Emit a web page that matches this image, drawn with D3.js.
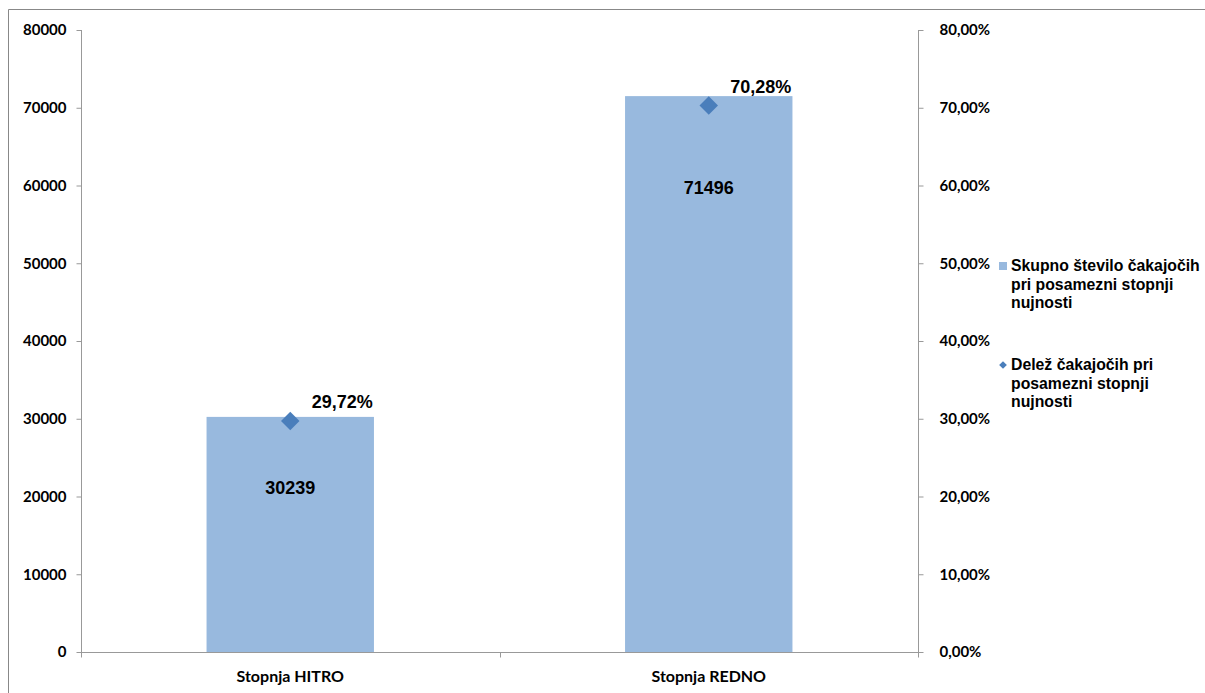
<!DOCTYPE html>
<html><head><meta charset="utf-8">
<script src="https://cdn.jsdelivr.net/npm/d3@7"></script>
<style>body{margin:0;background:#fff}svg{display:block}</style>
</head><body>
<svg id="c" width="1205" height="693"></svg>
<script>
const categories = ["Stopnja HITRO", "Stopnja REDNO"];
const counts = [30239, 71496];
const shares = [0.2972, 0.7028];
const leftTicks = [0, 10000, 20000, 30000, 40000, 50000, 60000, 70000, 80000];
const rightTicks = [0, 0.1, 0.2, 0.3, 0.4, 0.5, 0.6, 0.7, 0.8];
const legendLabels = [["Skupno število čakajočih", "pri posamezni stopnji", "nujnosti"], ["Delež čakajočih pri", "posamezni stopnji", "nujnosti"]];
const countLabelDrop = [71, 92];

const svg = d3.select("#c");
const L = 81, R = 918, T = 30, B = 652;
const axisColor = "#999";
const tickFont = "Lato, 'Open Sans', sans-serif";
const labFont = "'Liberation Sans', Arial, sans-serif";

// outer border
svg.append("path").attr("d", "M8.5,693 L8.5,9.5 L1205,9.5").attr("fill", "none").attr("stroke", "#888").attr("stroke-width", 1);

const x = d3.scaleBand().domain(categories).range([L, R]).paddingInner(0).paddingOuter(0);
const y = d3.scaleLinear().domain([0, 80000]).range([B, T]);
const y2 = d3.scaleLinear().domain([0, 0.8]).range([B, T]);
const barW = x.bandwidth() * 0.4;

// bars
svg.selectAll("rect.bar").data(categories).join("rect")
  .attr("x", d => x(d) + x.bandwidth() / 2 - barW / 2)
  .attr("y", (d, i) => y(counts[i]))
  .attr("width", barW)
  .attr("height", (d, i) => B - y(counts[i]))
  .attr("fill", "#98b9de");

// left axis
const ga = svg.append("g").attr("transform", `translate(${L + 0.5},0)`)
  .call(d3.axisLeft(y).tickValues(leftTicks).tickFormat(d3.format("d")).tickSize(5).tickPadding(10));
// right axis
const gb = svg.append("g").attr("transform", `translate(${R + 0.5},0)`)
  .call(d3.axisRight(y2).tickValues(rightTicks).tickFormat(d => d3.format(".2f")(d * 100).replace(".", ",") + "%").tickSize(5).tickPadding(12));
[ga, gb].forEach(g => {
  g.select(".domain").attr("stroke", axisColor).attr("d", `M0,${T}V${B + 5}`);
  g.selectAll(".tick line").attr("stroke", axisColor);
  g.selectAll(".tick text").attr("font-family", tickFont).attr("font-weight", "bold").attr("font-size", 15).attr("fill", "#000");
});
gb.selectAll(".tick text").attr("dx", 4);

// bottom axis
const gx = svg.append("g").attr("transform", `translate(0,${B + 0.5})`)
  .call(d3.axisBottom(x).tickSize(0).tickPadding(18));
gx.select(".domain").attr("stroke", axisColor).attr("d", `M${L},0H${R}`);
gx.selectAll(".tick text").attr("font-family", tickFont).attr("font-weight", "bold").attr("font-size", 16).attr("fill", "#000");
const bounds = [L, L + x.bandwidth(), R];
gx.selectAll("line.sep").data(bounds).join("line").attr("class", "sep")
  .attr("x1", d => Math.round(d) + 0.5).attr("x2", d => Math.round(d) + 0.5)
  .attr("y1", 0).attr("y2", 5).attr("stroke", axisColor);

// diamonds
svg.selectAll("path.dm").data(categories).join("path")
  .attr("transform", (d, i) => `translate(${x(d) + x.bandwidth() / 2},${y2(shares[i])}) rotate(45)`)
  .attr("d", d3.symbol().type(d3.symbolSquare).size(170))
  .attr("fill", "#4a7ebb");

// percent labels
svg.selectAll("text.pl").data(categories).join("text")
  .attr("x", (d, i) => x(d) + x.bandwidth() / 2 + 52)
  .attr("y", (d, i) => y2(shares[i]) - 13)
  .attr("text-anchor", "middle")
  .attr("font-family", labFont).attr("font-weight", "bold").attr("font-size", 18)
  .text((d, i) => d3.format(".2f")(shares[i] * 100).replace(".", ",") + "%");

// count labels
svg.selectAll("text.cl").data(categories).join("text")
  .attr("x", d => x(d) + x.bandwidth() / 2)
  .attr("y", (d, i) => y(counts[i]) + countLabelDrop[i] + 6)
  .attr("text-anchor", "middle")
  .attr("font-family", labFont).attr("font-weight", "bold").attr("font-size", 18)
  .text((d, i) => counts[i]);

// legend
const lg = svg.append("g").attr("font-family", labFont).attr("font-weight", "bold").attr("font-size", 15.8);
const legY = [271, 370];
legendLabels.forEach((lines, k) => {
  lines.forEach((t, j) => {
    lg.append("text").attr("x", 1011).attr("y", legY[k] + j * 18.5).text(t);
  });
});
lg.append("rect").attr("x", 999).attr("y", 262).attr("width", 8).attr("height", 8).attr("fill", "#98b9de");
lg.append("path").attr("transform", "translate(1003,365) rotate(45)")
  .attr("d", d3.symbol().type(d3.symbolSquare).size(30)).attr("fill", "#4a7ebb");
</script>
</body></html>
